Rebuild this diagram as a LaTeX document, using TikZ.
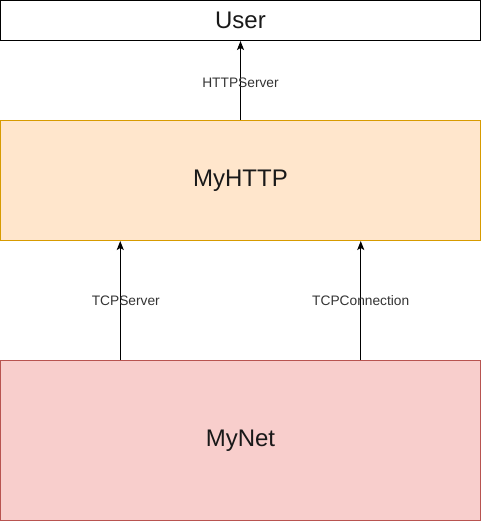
\documentclass[tikz,border=0pt]{standalone}
\usepackage{fontspec}
\setmainfont{Liberation Sans}
\usetikzlibrary{calc,arrows.meta}

\definecolor{httpfill}{HTML}{FFE6CC}
\definecolor{httpline}{HTML}{D79B00}
\definecolor{netfill}{HTML}{F8CECC}
\definecolor{netline}{HTML}{B85450}
\definecolor{lblgray}{HTML}{333333}

\begin{document}
\begin{tikzpicture}[x=1pt,y=-1pt,
  layer/.style={draw,line width=1pt,minimum width=480pt,inner sep=0pt,
    font=\fontsize{24}{28}\selectfont,text=black!90},
  arr/.style={-{Stealth[length=9pt,width=7pt,inset=2pt]},line width=1pt},
  lbl/.style={font=\fontsize{13.75}{16}\selectfont,text=lblgray,inner sep=0pt}]

\useasboundingbox (0,0) rectangle (481,521);

% Schichten
\node[layer,minimum height=40pt] (user) at (240.5,20.5) {User};
\node[layer,minimum height=120pt,fill=httpfill,draw=httpline] (myhttp) at (240.5,180.5) {MyHTTP};
\node[layer,minimum height=160pt,fill=netfill,draw=netline] (mynet) at (240.5,440.5) {MyNet};

% Verbindungen
\draw[arr] (myhttp.north) -- (user.south)
  node[lbl,midway,yshift=-2.5pt] {HTTPServer};
\draw[arr] ($(mynet.north west)!.25!(mynet.north east)$) -- ($(myhttp.south west)!.25!(myhttp.south east)$)
  node[lbl,midway,xshift=5.5pt] {TCPServer};
\draw[arr] ($(mynet.north west)!.75!(mynet.north east)$) -- ($(myhttp.south west)!.75!(myhttp.south east)$)
  node[lbl,midway] {TCPConnection};

\end{tikzpicture}
\end{document}
